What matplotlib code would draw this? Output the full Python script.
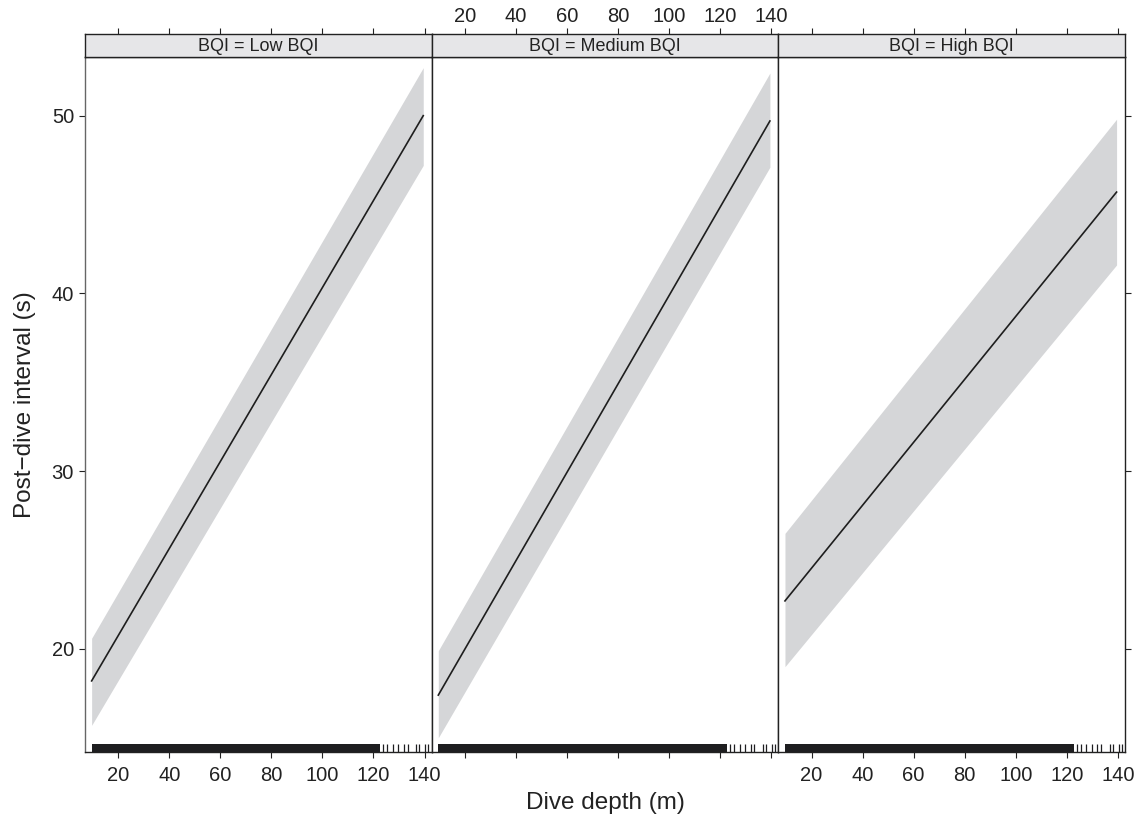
import numpy as np
import matplotlib.pyplot as plt

plt.rcParams['font.family'] = ['Liberation Sans', 'DejaVu Sans']

# effect of dive depth on post-dive interval, by BQI level
panels = ['Low BQI', 'Medium BQI', 'High BQI']
depth_fit = [9.6, 139.5]
fit = [[18.2, 50.0],
       [17.4, 49.7],
       [22.7, 45.7]]
lower = [[15.7, 47.2],
         [15.0, 47.1],
         [19.0, 41.6]]
upper = [[20.6, 52.7],
         [19.9, 52.4],
         [26.5, 49.8]]

# rug of observed dive depths: solid block plus the sparse deep dives
rug_dense = (9.6, 122.7)
rug_sparse = [123.9, 125.4, 127.6, 129.8, 132.0, 133.4, 136.8, 138.0, 140.3, 141.5]

xticks = [20, 40, 60, 80, 100, 120, 140]
yticks = [20, 30, 40, 50]
xlim = (7.0, 142.8)
ylim = (14.2, 53.3)

W, H = 1136, 818
fig = plt.figure(figsize=(W / 100, H / 100), dpi=100)

left, right = 85 / W, 1125 / W
pw = (right - left) / 3
bottom = 1 - 752 / H
top = 1 - 57 / H
sh = 23 / H

dark = '#222222'
for i, name in enumerate(panels):
    ax = fig.add_axes([left + i * pw, bottom, pw, top - bottom])
    st = fig.add_axes([left + i * pw, top, pw, sh])

    ax.fill_between(depth_fit, lower[i], upper[i], color='#d5d6d8', lw=0)
    ax.plot(depth_fit, fit[i], color='#1e1e1e', lw=1.2)

    ax.axvspan(rug_dense[0], rug_dense[1], ymin=0, ymax=0.011, color='#1e1e20', lw=0)
    ax.vlines(rug_sparse, 0, 0.011, transform=ax.get_xaxis_transform(),
              color='#1e1e20', lw=0.9)

    ax.set_xlim(xlim)
    ax.set_ylim(ylim)
    ax.set_xticks(xticks)
    ax.set_yticks(yticks)
    ax.tick_params(direction='out', length=4.3, width=0.8, colors=dark,
                   labelsize=14.5, pad=6)
    ax.tick_params(axis='y', pad=3.6)
    if i == 1:
        ax.tick_params(axis='x', labelbottom=False)
    if i == 0:
        ax.tick_params(axis='y', left=True, labelleft=True)
    elif i == 2:
        ax.tick_params(axis='y', left=False, labelleft=False, right=True)
    else:
        ax.tick_params(axis='y', left=False, labelleft=False)
    for s in ax.spines.values():
        s.set_color(dark)
        s.set_linewidth(1.0)
    ax.spines['left'].set_color('#666666' if i == 0 else dark)

    st.set_facecolor('#e6e6e8')
    st.set_xlim(xlim)
    st.set_yticks([])
    st.set_xticks(xticks)
    st.tick_params(axis='x', top=True, bottom=False, labelbottom=False,
                   labeltop=(i == 1), direction='out', length=4.3, width=0.8,
                   colors=dark, labelsize=14.5, pad=1.7)
    for s in st.spines.values():
        s.set_color(dark)
        s.set_linewidth(1.0)
    st.text(0.5, 0.45, f'BQI = {name}', transform=st.transAxes,
            ha='center', va='center', fontsize=13, color=dark)

fig.text(0.5326, 1 - 803 / H, 'Dive depth (m)', ha='center', va='center',
         fontsize=17.5, color=dark)
fig.text(25 / W, (bottom + top) / 2, 'Post\u2212dive interval (s)', ha='center',
         va='center', rotation=90, fontsize=17.5, color=dark)

fig.savefig('out.png', dpi=100)
